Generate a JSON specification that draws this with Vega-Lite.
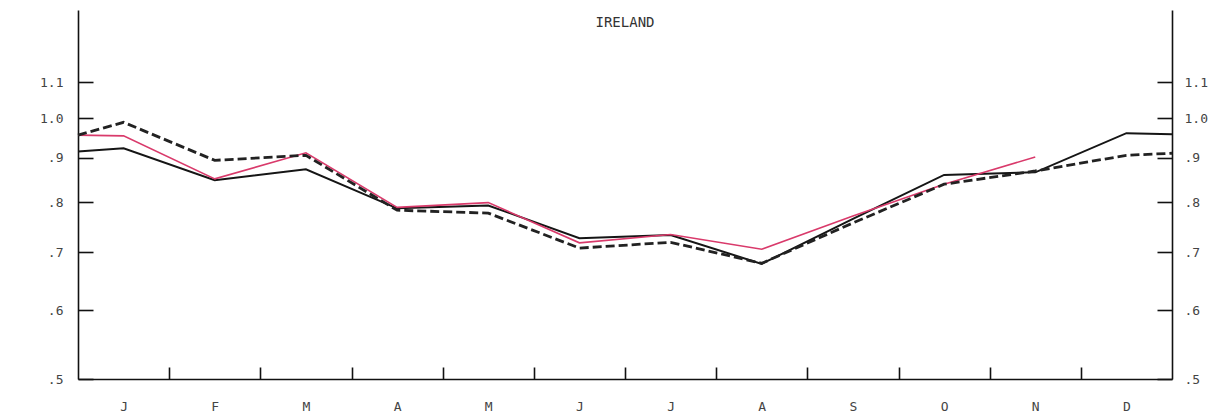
{
  "$schema": "https://vega.github.io/schema/vega-lite/v6.json",
  "width": 1094,
  "height": 369,
  "autosize": {"type": "none"},
  "padding": {"left": 78, "top": 10, "right": 57, "bottom": 39},
  "background": "white",
  "title": {"text": "IRELAND", "font": "DejaVu Sans Mono", "fontSize": 14, "fontWeight": "normal", "color": "#333", "frame": "group", "anchor": "middle", "offset": -31, "baseline": "alphabetic"},
  "config": {
    "view": {"stroke": null},
    "axis": {"domainColor": "#111", "domainWidth": 1.6, "tickColor": "#111", "tickWidth": 1.6, "labelFont": "DejaVu Sans Mono", "labelFontSize": 13, "labelColor": "#444"}
  },
  "data": {"values": [
    {"s": "A", "m": 0, "v": 0.915}, {"s": "A", "m": 0.5, "v": 0.923}, {"s": "A", "m": 1.5, "v": 0.848}, {"s": "A", "m": 2.5, "v": 0.873},
    {"s": "A", "m": 3.5, "v": 0.787}, {"s": "A", "m": 4.5, "v": 0.793}, {"s": "A", "m": 5.5, "v": 0.727}, {"s": "A", "m": 6.5, "v": 0.733},
    {"s": "A", "m": 7.5, "v": 0.679}, {"s": "A", "m": 8.5, "v": 0.765}, {"s": "A", "m": 9.5, "v": 0.860}, {"s": "A", "m": 10.5, "v": 0.866},
    {"s": "A", "m": 11.5, "v": 0.961}, {"s": "A", "m": 12, "v": 0.958},
    {"s": "B", "m": 0, "v": 0.956}, {"s": "B", "m": 0.5, "v": 0.954}, {"s": "B", "m": 1.5, "v": 0.851}, {"s": "B", "m": 2.5, "v": 0.912},
    {"s": "B", "m": 3.5, "v": 0.789}, {"s": "B", "m": 4.5, "v": 0.799}, {"s": "B", "m": 5.5, "v": 0.718}, {"s": "B", "m": 6.5, "v": 0.734},
    {"s": "B", "m": 7.5, "v": 0.706}, {"s": "B", "m": 8.5, "v": 0.771}, {"s": "B", "m": 9.5, "v": 0.839}, {"s": "B", "m": 10.5, "v": 0.902},
    {"s": "C", "m": 0, "v": 0.956}, {"s": "C", "m": 0.5, "v": 0.989}, {"s": "C", "m": 1.5, "v": 0.894}, {"s": "C", "m": 2.5, "v": 0.906},
    {"s": "C", "m": 3.5, "v": 0.783}, {"s": "C", "m": 4.5, "v": 0.777}, {"s": "C", "m": 5.5, "v": 0.708}, {"s": "C", "m": 6.5, "v": 0.719},
    {"s": "C", "m": 7.5, "v": 0.680}, {"s": "C", "m": 8.5, "v": 0.757}, {"s": "C", "m": 9.5, "v": 0.839}, {"s": "C", "m": 10.5, "v": 0.869},
    {"s": "C", "m": 11.5, "v": 0.906}, {"s": "C", "m": 12, "v": 0.911}
  ]},
  "encoding": {
    "x": {
      "field": "m", "type": "quantitative",
      "scale": {"domain": [0, 12], "nice": false, "zero": false},
      "axis": {
        "title": null,
        "values": [0, 0.5, 1, 1.5, 2, 2.5, 3, 3.5, 4, 4.5, 5, 5.5, 6, 6.5, 7, 7.5, 8, 8.5, 9, 9.5, 10, 10.5, 11, 11.5, 12],
        "tickSize": -12,
        "tickOpacity": {"condition": {"test": "datum.value % 1 == 0 && datum.value > 0 && datum.value < 12", "value": 1}, "value": 0},
        "grid": true,
        "gridColor": "#111",
        "gridWidth": 1.6,
        "gridOpacity": {"condition": {"test": "datum.value == 0 || datum.value == 12", "value": 1}, "value": 0},
        "labelExpr": "datum.value % 1 == 0 ? '' : ['J','F','M','A','M','J','J','A','S','O','N','D'][floor(datum.value)]",
        "labelPadding": 33,
        "labelFlush": false,
        "labelOverlap": false
      }
    }
  },
  "layer": [
    {
      "transform": [{"filter": "datum.s == 'A'"}],
      "mark": {"type": "line", "color": "#151515", "strokeWidth": 2},
      "encoding": {
        "y": {
          "field": "v", "type": "quantitative",
          "scale": {"type": "log", "domain": [0.5, 1.333], "nice": false},
          "axis": {"orient": "left", "title": null, "grid": false, "domain": false, "offset": -15, "values": [0.5, 0.6, 0.7, 0.8, 0.9, 1.0, 1.1], "tickSize": 15, "labelPadding": 15, "labelFlush": false, "labelOverlap": false,
                   "labelExpr": "datum.value >= 1 ? format(datum.value, '.1f') : '.' + format(round(datum.value * 10), 'd')"}
        }
      }
    },
    {
      "transform": [{"filter": "datum.s == 'B'"}],
      "mark": {"type": "line", "color": "#d93a6b", "strokeWidth": 1.6},
      "encoding": {
        "y": {
          "field": "v", "type": "quantitative",
          "scale": {"type": "log", "domain": [0.5, 1.333], "nice": false},
          "axis": {"orient": "right", "title": null, "grid": false, "domain": false, "offset": -15, "values": [0.5, 0.6, 0.7, 0.8, 0.9, 1.0, 1.1], "tickSize": 15, "labelPadding": 12, "labelFlush": false, "labelOverlap": false,
                   "labelExpr": "datum.value >= 1 ? format(datum.value, '.1f') : '.' + format(round(datum.value * 10), 'd')"}
        }
      }
    },
    {
      "transform": [{"filter": "datum.s == 'C'"}],
      "mark": {"type": "line", "color": "#222222", "strokeWidth": 2.8, "strokeDash": [9, 4]},
      "encoding": {
        "y": {
          "field": "v", "type": "quantitative",
          "scale": {"type": "log", "domain": [0.5, 1.333], "nice": false},
          "axis": null
        }
      }
    }
  ],
  "resolve": {"axis": {"y": "independent"}}
}
